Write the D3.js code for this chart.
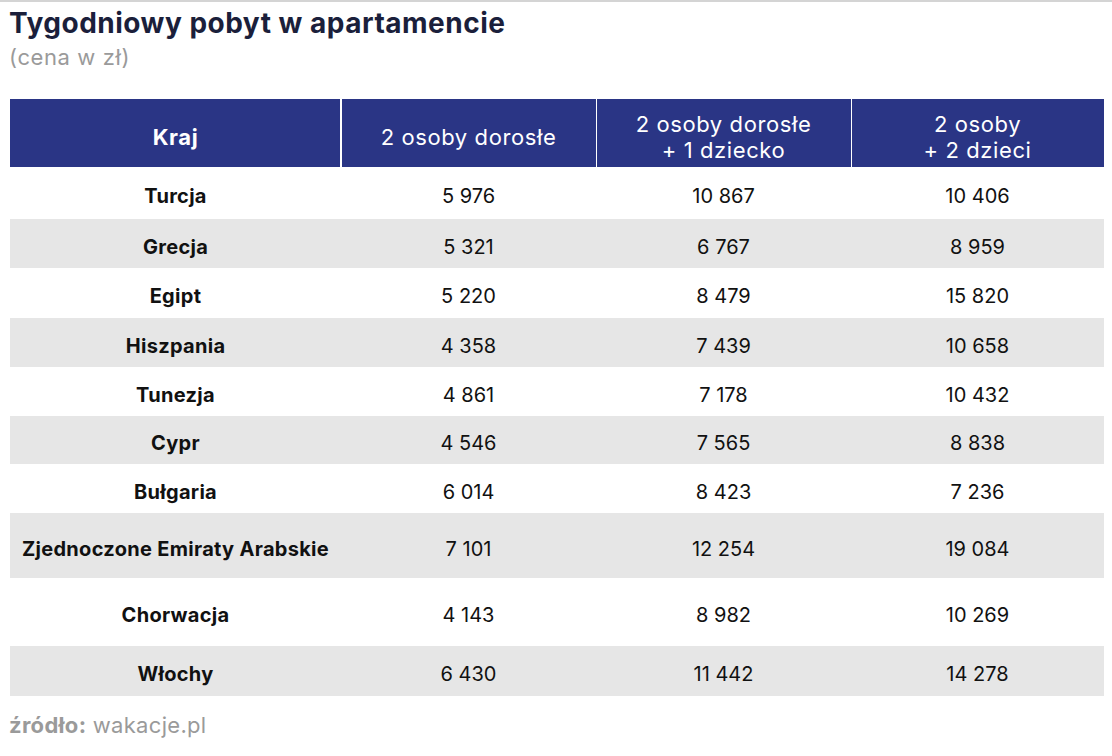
<!DOCTYPE html>
<html>
<head>
<meta charset="utf-8">
<script src="https://cdn.jsdelivr.net/npm/d3@7"></script>
<style>
  html, body { margin: 0; padding: 0; background: #fff; }
  svg { display: block; }
</style>
</head>
<body>
<script>
// ---- data ----
const countries = ["Turcja","Grecja","Egipt","Hiszpania","Tunezja","Cypr","Bułgaria","Zjednoczone Emiraty Arabskie","Chorwacja","Włochy"];
const headers = [["Kraj"], ["2 osoby dorosłe"], ["2 osoby dorosłe", "+ 1 dziecko"], ["2 osoby", "+ 2 dzieci"]];
const adults2 = [5976, 5321, 5220, 4358, 4861, 4546, 6014, 7101, 4143, 6430];
const adults2child1 = [10867, 6767, 8479, 7439, 7178, 7565, 8423, 12254, 8982, 11442];
const adults2child2 = [10406, 8959, 15820, 10658, 10432, 8838, 7236, 19084, 10269, 14278];
const title = "Tygodniowy pobyt w apartamencie";
const subtitle = "(cena w zł)";
const sourceLabel = "źródło:";
const sourceText = "wakacje.pl";

// ---- layout ----
const W = 1112, H = 756;
const FONT = "Inter, 'Noto Sans', sans-serif";
const series = [adults2, adults2child1, adults2child2];
const fmt = d3.formatLocale({decimal: ",", thousands: " ", grouping: [3], currency: ["", " zł"]}).format(",d");

const svg = d3.select("body").append("svg").attr("width", W).attr("height", H);

// top rule
svg.append("rect").attr("x", 0).attr("y", 0).attr("width", W).attr("height", 2).attr("fill", "#d4d4d4");

svg.append("text").attr("x", 9).attr("y", 33)
  .attr("font-family", FONT).attr("font-weight", 700).attr("font-size", 28)
  .attr("letter-spacing", 0.5)
  .attr("fill", "#1b1f3b").text(title);
svg.append("text").attr("x", 9).attr("y", 65)
  .attr("font-family", FONT).attr("font-weight", 400).attr("font-size", 22)
  .attr("letter-spacing", 0.6)
  .attr("fill", "#9a9a9a").text(subtitle);

// columns: first column is wider
const colKeys = d3.range(headers.length);
const colEdges = [10, 341, 596, 851, 1104];
const x0 = d => colEdges[d], x1 = d => colEdges[d + 1];

// rows: relative heights (layout) mapped through a linear scale
const rowUnits = [52, 49, 50, 49, 49, 48, 49, 65, 68, 50];
const cum = [0]; rowUnits.forEach(u => cum.push(cum[cum.length - 1] + u));
const yRow = d3.scaleLinear().domain([0, cum[cum.length - 1]]).range([167, 696]);

// header
const headTop = 99, headBot = 167;
const hg = svg.append("g");
hg.selectAll("rect").data(colKeys).join("rect")
  .attr("x", d => x0(d) + (d === 0 ? 0 : 1))
  .attr("y", headTop)
  .attr("width", d => x1(d) - x0(d) - 1)
  .attr("height", headBot - headTop)
  .attr("fill", "#2a3585");
hg.selectAll("text").data(colKeys).join("text")
  .attr("x", d => (x0(d) + x1(d)) / 2)
  .attr("y", d => headers[d].length === 1 ? 145 : 132)
  .attr("text-anchor", "middle")
  .attr("font-family", FONT).attr("font-size", 22)
  .attr("letter-spacing", 0.6)
  .attr("font-weight", d => d === 0 ? 700 : 400)
  .attr("fill", "#fff")
  .each(function(d) {
    d3.select(this).selectAll("tspan").data(headers[d]).join("tspan")
      .attr("x", (x0(d) + x1(d)) / 2)
      .attr("dy", (t, i) => i === 0 ? 0 : 26)
      .text(t => t);
  });

// body rows
const rows = svg.append("g").selectAll("g").data(countries).join("g");
rows.append("rect")
  .attr("x", colEdges[0]).attr("width", colEdges[4] - colEdges[0])
  .attr("y", (d, i) => yRow(cum[i]))
  .attr("height", (d, i) => yRow(cum[i + 1]) - yRow(cum[i]))
  .attr("fill", (d, i) => i % 2 ? "#e6e6e6" : "#ffffff");
rows.append("text")
  .attr("x", (x0(0) + x1(0)) / 2)
  .attr("y", (d, i) => (yRow(cum[i]) + yRow(cum[i + 1])) / 2 + 10)
  .attr("text-anchor", "middle")
  .attr("font-family", FONT).attr("font-weight", 700).attr("font-size", 20)
  .attr("letter-spacing", 0.3)
  .attr("fill", "#111").text(d => d);
series.forEach((vals, s) => {
  rows.append("text")
    .attr("x", (x0(s + 1) + x1(s + 1)) / 2)
    .attr("y", (d, i) => (yRow(cum[i]) + yRow(cum[i + 1])) / 2 + 10)
    .attr("text-anchor", "middle")
    .attr("font-family", FONT).attr("font-weight", 400).attr("font-size", 20)
    .attr("fill", "#111").text((d, i) => fmt(vals[i]));
});

// source
const src = svg.append("text").attr("x", 9).attr("y", 733)
  .attr("font-family", FONT).attr("font-size", 22).attr("fill", "#9a9a9a")
  .attr("letter-spacing", 0.3);
src.append("tspan").attr("font-weight", 700).text(sourceLabel);
src.append("tspan").attr("font-weight", 400).text(" " + sourceText);
</script>
</body>
</html>
